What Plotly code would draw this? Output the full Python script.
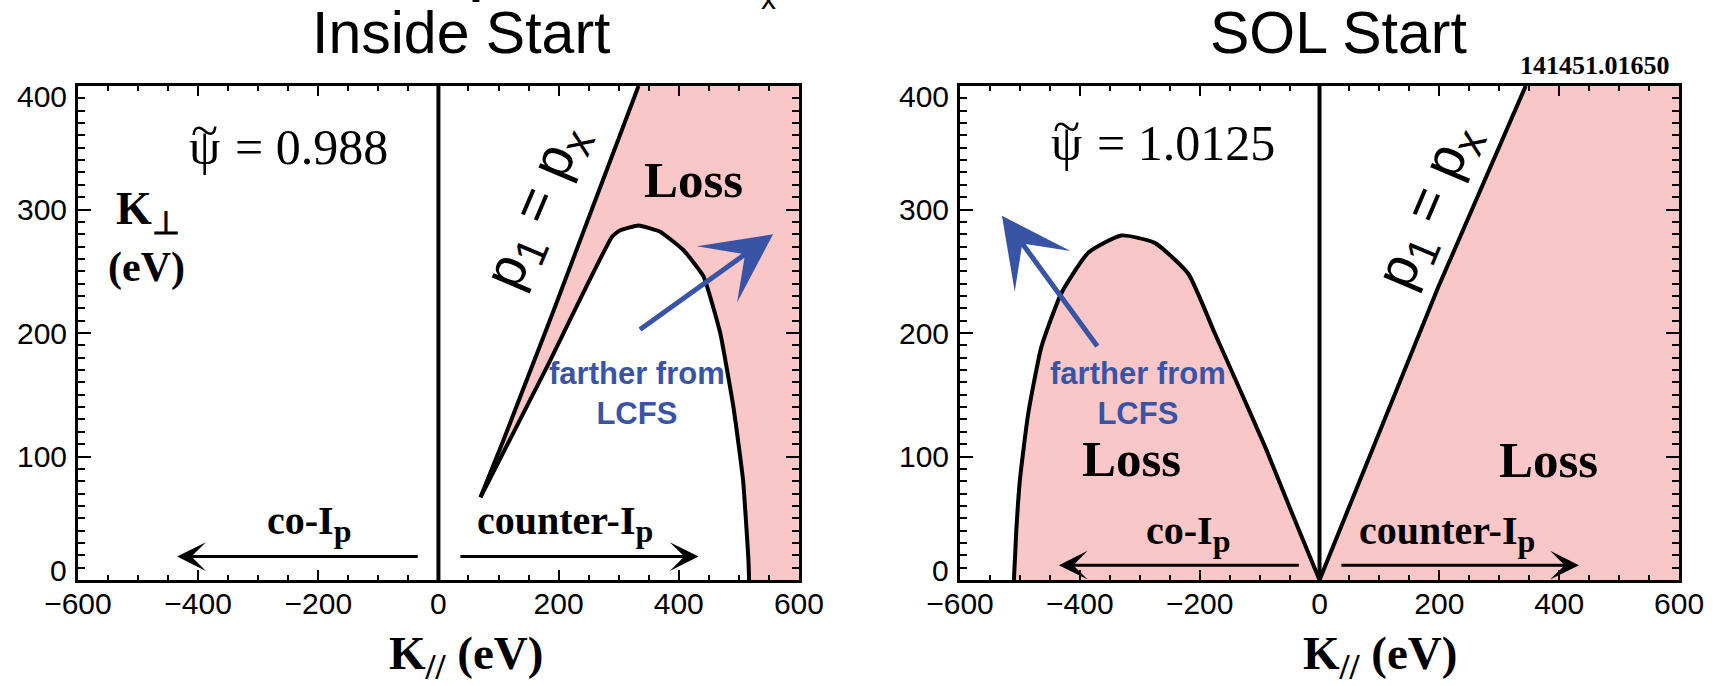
import plotly.graph_objects as go

# ---------------- data (eV) ----------------
x_ticks = [-600, -400, -200, 0, 200, 400, 600]
y_ticks = [0, 100, 200, 300, 400]

# Inside Start panel: p1 = px boundary line
in_pline_x = [70, 108, 190, 333]
in_pline_y = [67, 113, 216, 400]
# Inside Start panel: confined-orbit boundary (from tip, over the peak, to the axis)
in_bound_x = [70, 180, 289, 302, 333, 369, 408, 441, 469, 491, 507, 516, 517]
in_bound_y = [67, 172, 278, 283, 287, 282, 267, 246, 200, 140, 81, 16, 0]

# SOL Start panel: co-Ip loss lobe
sol_lobe_x = [-510, -506, -500, -486, -464, -431, -386, -331, -275, -219, -175, -140, -90, -45, 0]
sol_lobe_y = [0, 40, 81, 135, 189, 232, 265, 279, 273, 248, 200, 162, 107, 53, 0]
# SOL Start panel: p1 = px line
sol_pline_x = [0, 198, 344]
sol_pline_y = [0, 237, 400]

x_max, y_max = 600, 400

PINK = "#F9C7C7"
BLUE = "#3A54A5"
SERIF = "Liberation Serif"
SANS = "Liberation Sans"

fig = go.Figure()

# ---- left panel ----
fill_x = in_pline_x + [x_max, x_max] + in_bound_x[::-1]
fill_y = in_pline_y + [y_max, 0] + in_bound_y[::-1]
fig.add_trace(go.Scatter(x=fill_x, y=fill_y, fill="toself", fillcolor=PINK,
                         line=dict(width=0), mode="lines", xaxis="x", yaxis="y",
                         hoverinfo="skip"))
fig.add_trace(go.Scatter(x=in_pline_x, y=in_pline_y, mode="lines",
                         line=dict(color="black", width=4), xaxis="x", yaxis="y"))
fig.add_trace(go.Scatter(x=in_bound_x, y=in_bound_y, mode="lines",
                         line=dict(color="black", width=4, shape="spline", smoothing=0.4),
                         xaxis="x", yaxis="y"))
fig.add_trace(go.Scatter(x=[0, 0], y=[0, y_max], mode="lines",
                         line=dict(color="black", width=4), xaxis="x", yaxis="y"))

# ---- right panel ----
fig.add_trace(go.Scatter(x=sol_lobe_x, y=sol_lobe_y, fill="toself", fillcolor=PINK,
                         line=dict(width=0), mode="lines", xaxis="x2", yaxis="y2",
                         hoverinfo="skip"))
fig.add_trace(go.Scatter(x=sol_pline_x + [x_max, x_max], y=sol_pline_y + [y_max, 0],
                         fill="toself", fillcolor=PINK, line=dict(width=0), mode="lines",
                         xaxis="x2", yaxis="y2", hoverinfo="skip"))
fig.add_trace(go.Scatter(x=sol_lobe_x, y=sol_lobe_y, mode="lines",
                         line=dict(color="black", width=4, shape="spline", smoothing=0.5),
                         xaxis="x2", yaxis="y2"))
fig.add_trace(go.Scatter(x=sol_pline_x, y=sol_pline_y, mode="lines",
                         line=dict(color="black", width=4), xaxis="x2", yaxis="y2"))
fig.add_trace(go.Scatter(x=[0, 0], y=[0, y_max], mode="lines",
                         line=dict(color="black", width=4), xaxis="x2", yaxis="y2"))


def xax(domain, anchor):
    return dict(domain=domain, anchor=anchor, range=[-600, 600], tickvals=x_ticks,
                ticks="inside", ticklen=10, tickwidth=2, tickcolor="black",
                showline=True, linewidth=3, linecolor="black", mirror="ticks",
                showgrid=False, zeroline=False, automargin=False,
                minor=dict(ticks="inside", dtick=50, ticklen=5, tickwidth=2,
                           tickcolor="black", showgrid=False),
                tickfont=dict(family=SANS, size=30, color="black"),
                ticklabelstandoff=-5)


def yax(domain, anchor):
    return dict(domain=domain, anchor=anchor, range=[0, 400], tickvals=y_ticks,
                showticklabels=False, automargin=False,
                ticks="inside", ticklen=13, tickwidth=2, tickcolor="black",
                showline=True, linewidth=3, linecolor="black", mirror="ticks",
                showgrid=False, zeroline=False,
                minor=dict(ticks="inside", dtick=10, ticklen=7, tickwidth=2,
                           tickcolor="black", showgrid=False))


ydom = [0.1545, 0.8746]
fig.update_layout(
    width=1717, height=686,
    margin=dict(l=0, r=0, t=0, b=0, pad=0, autoexpand=False),
    paper_bgcolor="white", plot_bgcolor="white", showlegend=False,
    xaxis=xax([0.0454, 0.4653], "y"), yaxis=yax(ydom, "x"),
    xaxis2=xax([0.5591, 0.9779], "y2"), yaxis2=yax(ydom, "x2"),
)

ann = []


def txt(x, y, text, font, xref="x", yref="y", **kw):
    d = dict(x=x, y=y, xref=xref, yref=yref, text=text, showarrow=False,
             xanchor="center", yanchor="middle", font=font)
    d.update(kw)
    ann.append(d)


def arrow(x, y, ax, ay, xref, yref, color, width, size):
    ann.append(dict(x=x, y=y, ax=ax, ay=ay, xref=xref, yref=yref, axref=xref, ayref=yref,
                    text="", showarrow=True, arrowhead=3, arrowsize=size, arrowwidth=width,
                    arrowcolor=color, standoff=0))


def f(family, size, color="black"):
    return dict(family=family, size=size, color=color)


# y tick labels (top label sits below the top frame, 0 sits above the bottom frame)
for xr, yr in (("x", "y"), ("x2", "y2")):
    for v in y_ticks:
        shift = -10 if v == y_ticks[-1] else (10 if v == y_ticks[0] else 0)
        txt(-600, v, str(v), f(SANS, 30), xr, yr, xanchor="right", xshift=-9, yshift=shift)

# cut-off heading fragments at the very top edge
txt(0.2720, 1.0, "<b>p</b>", f(SANS, 50), "paper", "paper", xanchor="left",
    yanchor="bottom", yshift=-5)
txt(0.4475, 1.0, "x", f(SANS, 30), "paper", "paper", xanchor="center",
    yanchor="bottom", yshift=-17)

# panel titles and shot label
txt(0.2685, 0.952, "Inside Start", f(SANS, 59), "paper", "paper")
txt(0.7793, 0.952, "SOL Start", f(SANS, 59), "paper", "paper")
txt(0.929, 0.904, "<b>141451.01650</b>", f(SERIF, 26), "paper", "paper")

# x axis titles
SUBK = '<sub><span style="font-size:36px">//</span></sub>'
for xp in (0.2714, 0.8037):
    txt(xp, 0.042, "<b>K" + SUBK + " (eV)</b>", f(SERIF, 47), "paper", "paper")

# K_perp label
txt(-484, 298, "<b>K<sub>⊥</sub></b>", f(SERIF, 46))
txt(-486, 253, "<b>(eV)</b>", f(SERIF, 42))

# psi labels (psi with a tilde on top)
for xr, yr, xpsi, xeq, yv, val in (("x", "y", -390, -212, 351, "= 0.988"),
                                  ("x2", "y2", -422, -222, 354, "= 1.0125")):
    txt(xpsi, yv, "ψ", f(SERIF, 50), xr, yr)
    txt(xpsi, yv, "~", f(SERIF, 50), xr, yr, yshift=17)
    txt(xeq, yv, val, f(SERIF, 50), xr, yr)

# p1 = px labels
P1 = 'p<sub><span style="font-size:44px">1</span></sub> = p<sub><span style="font-size:44px">x</span></sub>'
txt(165, 302, P1, f(SANS, 56), textangle=-67)
txt(183, 302, P1, f(SANS, 56), "x2", "y2", textangle=-67)

# Loss labels
for xv, yv, xr, yr in ((424, 324, "x", "y"), (-314, 98, "x2", "y2"), (382, 97, "x2", "y2")):
    txt(xv, yv, "<b>Loss</b>", f(SERIF, 51), xr, yr)

# farther from LCFS
for xv, xr, yr in ((331, "x", "y"), (-303, "x2", "y2")):
    txt(xv, 151, "<b>farther from<br>LCFS</b>", f(SANS, 31, BLUE), xr, yr)

# blue arrows
arrow(557, 280, 333, 202, "x", "y", BLUE, 5, 2.3)
arrow(-530, 295, -369, 188, "x2", "y2", BLUE, 5, 2.3)

# co-Ip / counter-Ip arrows and labels
SUBP = '<sub><span style="font-size:32px">p</span></sub>'
for xr, yr, ya, yt, xc, xk in (("x", "y", 19, 46, -216, 210), ("x2", "y2", 12, 38, -220, 212)):
    arrow(-435, ya, -32, ya, xr, yr, "black", 3, 1.6)
    arrow(433, ya, 34, ya, xr, yr, "black", 3, 1.6)
    txt(xc, yt, "<b>co-I" + SUBP + "</b>", f(SERIF, 40), xr, yr)
    txt(xk, yt, "<b>counter-I" + SUBP + "</b>", f(SERIF, 40), xr, yr)

fig.update_layout(annotations=ann)
fig.write_html("out.html", config={"displayModeBar": False},
               post_script="document.body.style.margin='0';")
